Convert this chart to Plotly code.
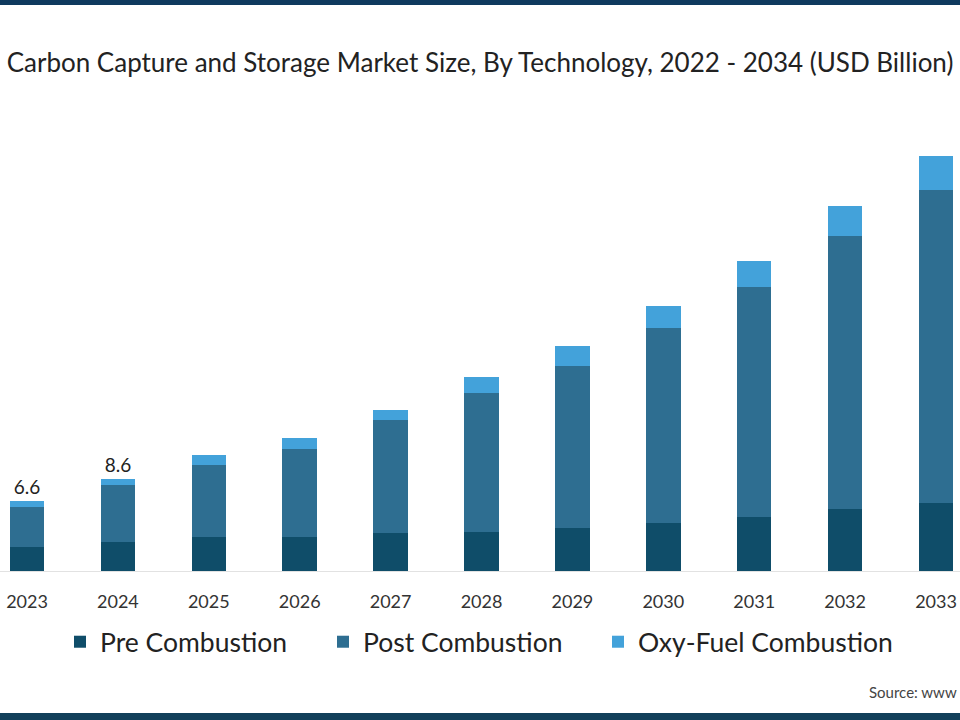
import plotly.graph_objects as go

years = ["2023", "2024", "2025", "2026", "2027", "2028", "2029", "2030", "2031", "2032", "2033"]
pre_combustion = [2.25, 2.7, 3.2, 3.2, 3.55, 3.7, 4.0, 4.55, 5.1, 5.8, 6.4]
post_combustion = [3.8, 5.35, 6.75, 8.3, 10.6, 13.0, 15.25, 18.3, 21.6, 25.7, 29.35]
oxy_fuel = [0.55, 0.55, 0.95, 1.0, 0.95, 1.5, 1.9, 2.0, 2.4, 2.8, 3.2]
labelled_years = ["2023", "2024"]

totals = [a + b + c for a, b, c in zip(pre_combustion, post_combustion, oxy_fuel)]
top_text = [f"{t:.1f}" if y in labelled_years else "" for y, t in zip(years, totals)]

FONT = "Lato"
C_PRE = "#0f4d69"
C_POST = "#2e6e91"
C_OXY = "#43a2da"

fig = go.Figure()
fig.add_trace(go.Bar(name="Pre Combustion", x=years, y=pre_combustion, legend="legend",
                     marker=dict(color=C_PRE, line=dict(width=0)), width=0.38))
fig.add_trace(go.Bar(name="Post Combustion", x=years, y=post_combustion, legend="legend2",
                     marker=dict(color=C_POST, line=dict(width=0)), width=0.38))
fig.add_trace(go.Bar(name="Oxy-Fuel Combustion", x=years, y=oxy_fuel, legend="legend3",
                     marker=dict(color=C_OXY, line=dict(width=0)), width=0.38,
                     text=top_text, textposition="outside", cliponaxis=False,
                     textfont=dict(family=FONT, size=19, color="#222222")))

LEG_Y = (571 - 642) / 421
def leg(text_left_px):
    return dict(orientation="h", x=(text_left_px - 42) / 960, xanchor="left",
                y=LEG_Y, yanchor="middle", bgcolor="rgba(0,0,0,0)",
                font=dict(family=FONT, size=26.5, color="#222222"), itemwidth=30)

# plot area: bottom at y=571px, top at 150px
fig.update_layout(
    width=960, height=720,
    barmode="stack",
    plot_bgcolor="white", paper_bgcolor="white",
    margin=dict(l=0, r=0, t=150, b=149),
    title=dict(text="Carbon Capture and Storage Market Size, By Technology, 2022 - 2034 (USD Billion)",
               x=0.5, xanchor="center", y=1 - 63 / 720, yanchor="middle",
               font=dict(family=FONT, size=26, color="#222222")),
    xaxis=dict(type="category", range=[-0.297, 10.264], showgrid=False,
               showline=True, linecolor="#e2e2e2", linewidth=1,
               ticks="", tickfont=dict(family=FONT, size=18, color="#333333"),
               ticklabelstandoff=14),
    yaxis=dict(range=[0, 39.53], visible=False, showgrid=False, zeroline=False),
    showlegend=True,
    legend=leg(102),
    legend2=leg(365),
    legend3=leg(640),
    bargap=0.6,
)

# top and bottom brand bands
fig.add_shape(type="rect", xref="paper", yref="paper", x0=0, x1=1,
              y0=(571 - 5) / 421, y1=(571 + 2) / 421, fillcolor="#0f3a5e", line=dict(width=0), layer="above")
fig.add_shape(type="rect", xref="paper", yref="paper", x0=0, x1=1,
              y0=(571 - 722) / 421, y1=(571 - 713) / 421, fillcolor="#12405a", line=dict(width=0), layer="above")

fig.add_annotation(text="Source: www", xref="paper", yref="paper",
                   x=959 / 960, xanchor="right", y=(571 - 692) / 421, yanchor="middle",
                   showarrow=False, font=dict(family=FONT, size=15, color="#444444"))

fig.write_html("out.html", config={"displayModeBar": False},
               post_script="document.body.style.margin='0';document.body.style.overflow='hidden';")
